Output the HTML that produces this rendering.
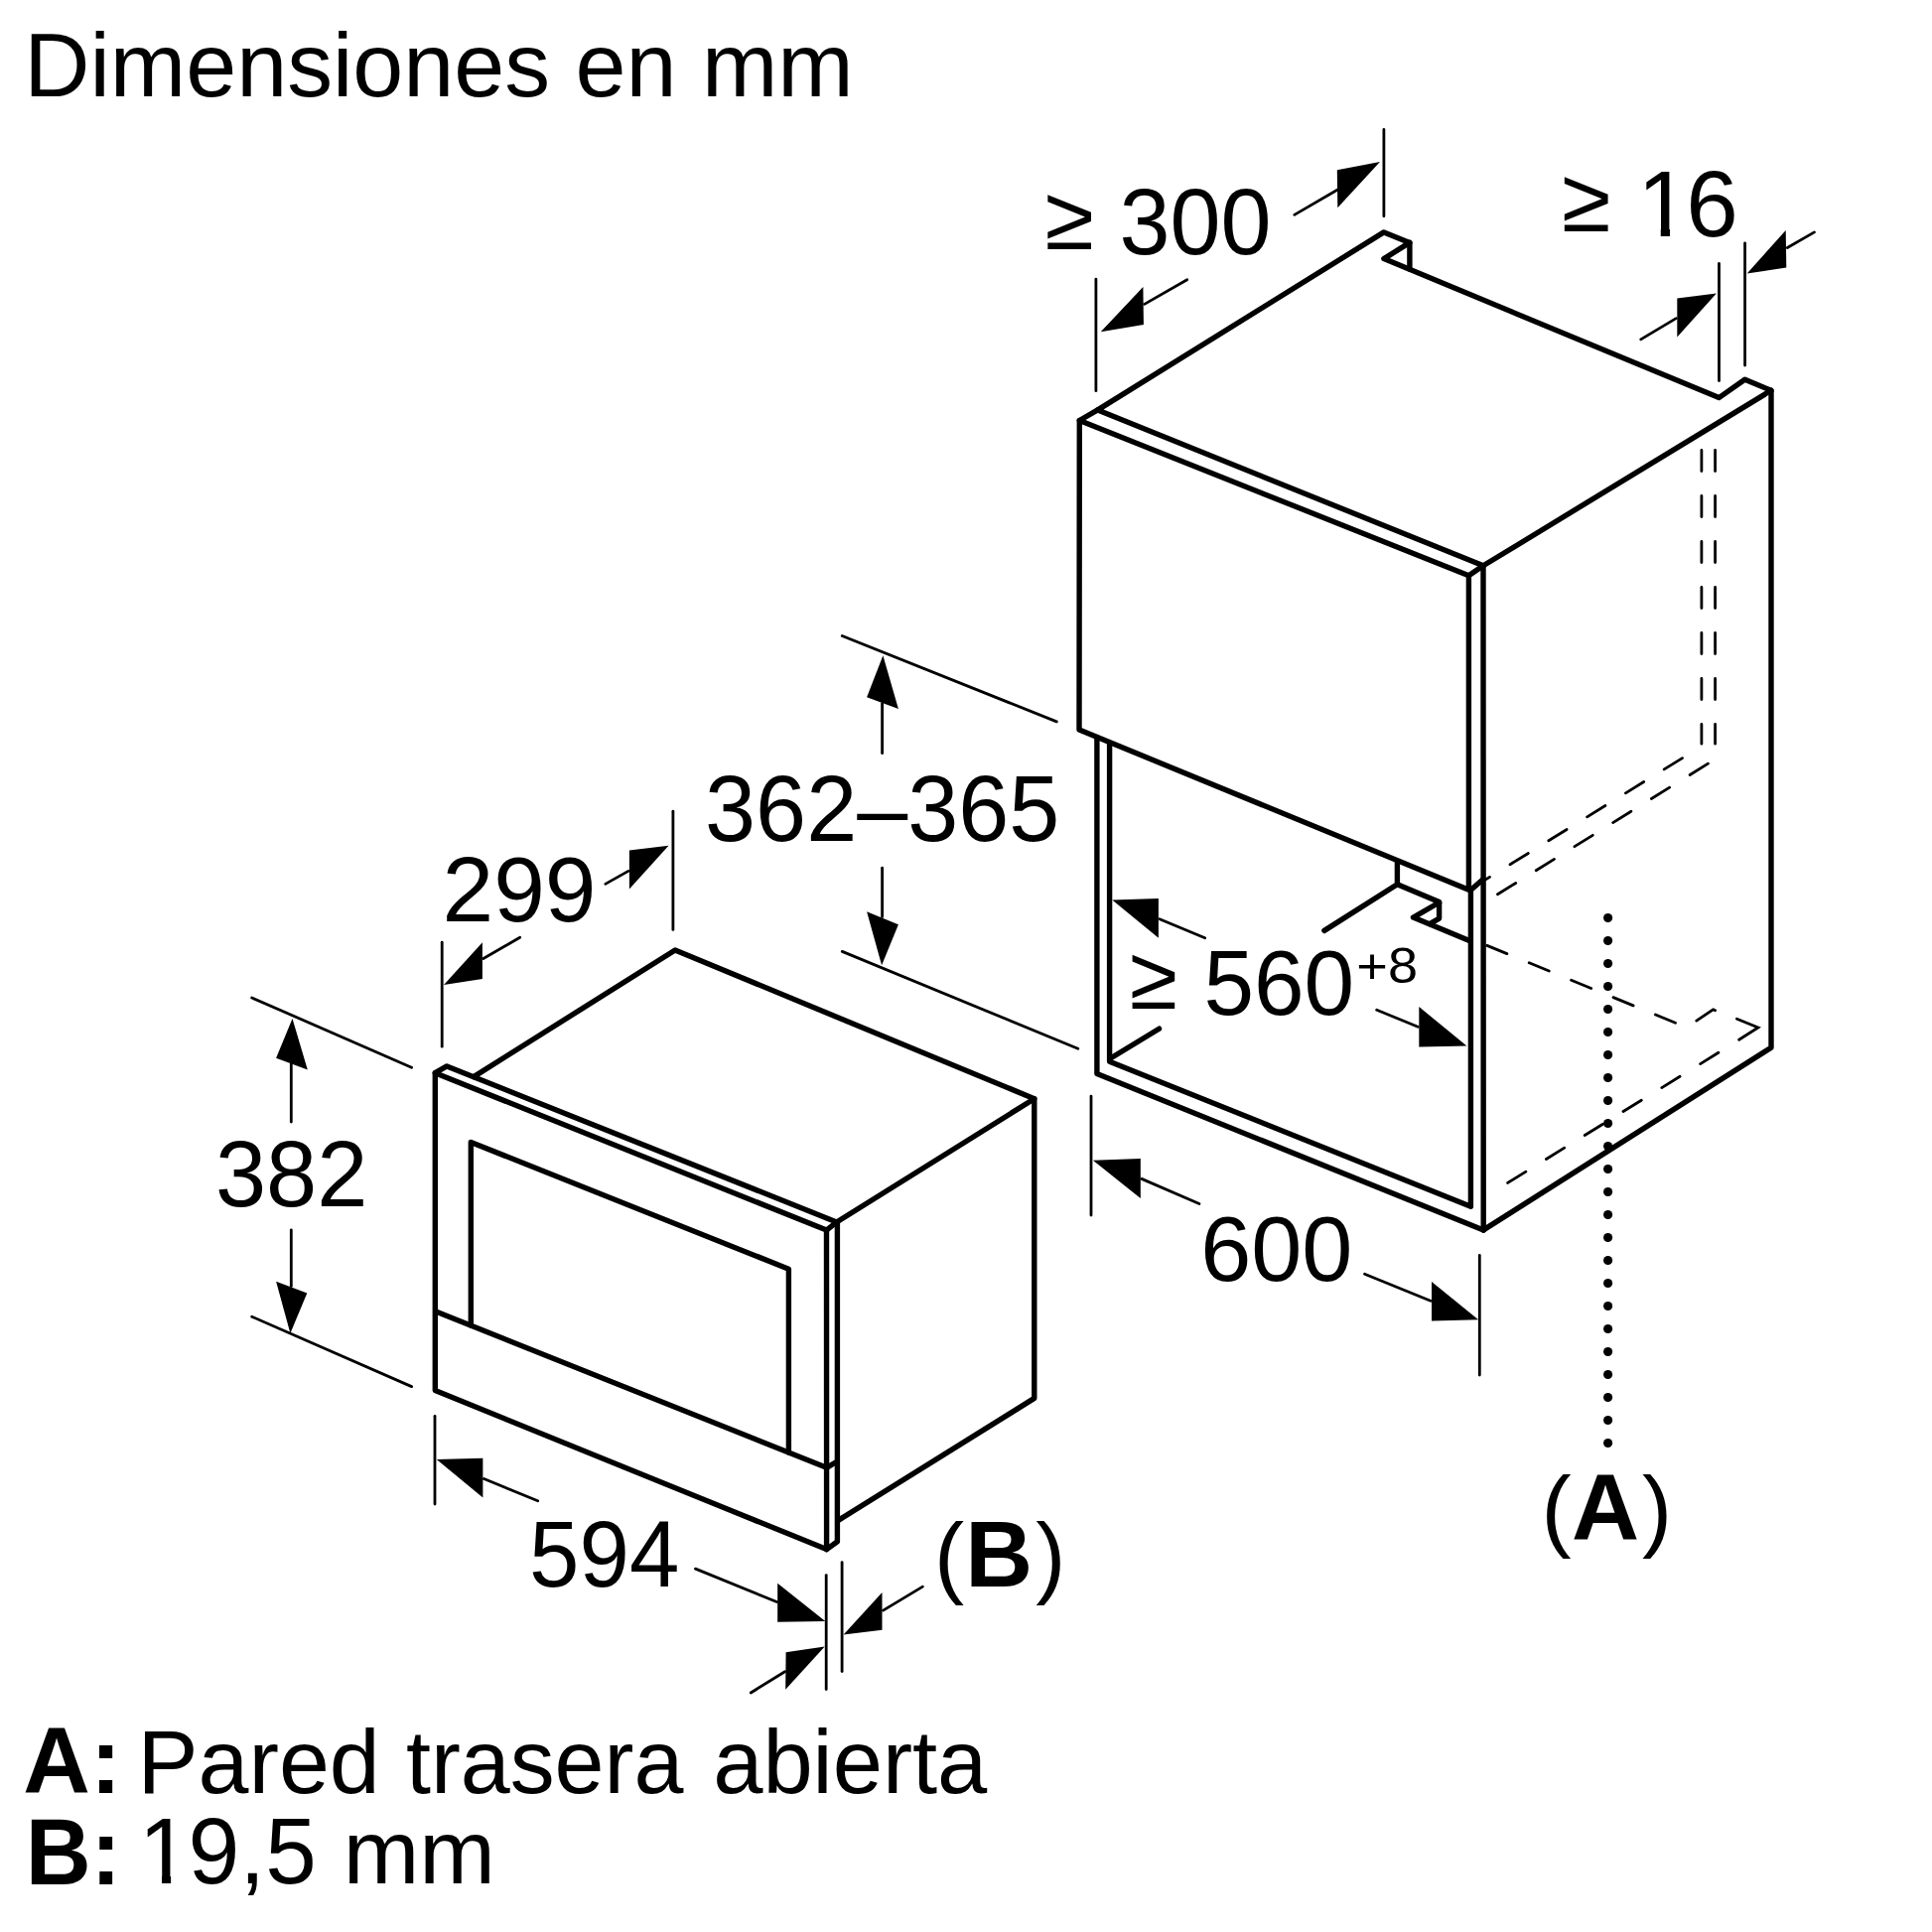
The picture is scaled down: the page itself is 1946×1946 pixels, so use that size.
<!DOCTYPE html>
<html lang="es">
<head>
<meta charset="utf-8">
<title>Dimensiones en mm</title>
<style>
html,body{margin:0;padding:0;background:#fff;}
body{width:1946px;height:1946px;overflow:hidden;}
svg{display:block;}
.k{fill:none;stroke:#000;stroke-width:5.4;stroke-linecap:round;stroke-linejoin:round;}
.m{stroke-linejoin:miter;stroke-miterlimit:10;}
.n{fill:none;stroke:#000;stroke-width:2.8;stroke-linecap:round;}
.d{fill:none;stroke:#000;stroke-width:2.8;stroke-linecap:round;}
.a{fill:#000;stroke:none;}
text{font-family:"Liberation Sans",Arial,Helvetica,sans-serif;fill:#000;}
.t{font-size:90.5px;}
.s{font-size:46.6px;}
.b{font-weight:bold;}
</style>
</head>
<body>
<svg width="1946" height="1946" viewBox="0 0 1946 1946">
<rect width="1946" height="1946" fill="#fff"/>
<path class="k" d="M1087.3 423.5 L1105.7 412.9"/>
<path class="k" d="M1479.4 579.7 L1494.0 569.8"/>
<path class="k" d="M1494.0 569.8 L1105.7 412.9 L1393.9 233.9 L1419.9 244.4 L1419.9 271.0"/>
<path class="k" d="M1419.9 244.4 L1393.9 260.6 L1731.4 400.6 L1757.5 382.3 L1784.0 393.3 L1784.0 1055.2 L1494.2 1238.9"/>
<path class="k" d="M1784.0 393.3 L1494.0 569.8"/>
<path class="k" d="M1494.0 569.8 L1494.2 1238.9"/>
<path class="k" d="M1481.4 897.0 L1481.4 1215.3 L1117.6 1069.2 L1117.6 742.0"/>
<path class="k" d="M1494.2 1238.9 L1104.9 1081.5 L1104.9 737.0"/>
<path class="k" d="M1481.4 896.5 L1494.0 885.5"/>
<path class="k" style="fill:#fff" d="M1479.4 579.7 L1087.3 423.5 L1087.0 735.0 L1479.4 896.2 Z"/>
<path class="k" d="M1118.5 1066.0 L1167.5 1036.2"/>
<path class="k" d="M1407.4 868.0 L1407.4 890.7 L1333.9 937.4"/>
<path class="k" d="M1407.4 890.7 L1449.6 908.5 L1449.6 925.1 L1440.1 930.6"/>
<path class="k" d="M1449.6 909.0 L1423.5 924.1 L1480.0 947.4"/>
<path class="d" stroke-dasharray="21.2 24.8" stroke-dashoffset="0" d="M1713.9 453.4 L1713.9 749.2"/>
<path class="d" stroke-dasharray="21.2 24.8" stroke-dashoffset="0" d="M1727.6 453.4 L1727.6 749.2"/>
<path class="d" stroke-dasharray="21.5 24.1" stroke-dashoffset="0" d="M1694.5 763.6 L1496.5 885.9"/>
<path class="d" stroke-dasharray="21.5 24.1" stroke-dashoffset="0" d="M1720.4 769.1 L1508.2 901.0"/>
<path class="d" stroke-dasharray="21.7 24.15" stroke-dashoffset="0" d="M1497.8 952.4 L1688.0 1030.5"/>
<path class="d" d="M1708.8 1028.1 L1725.6 1016.8 L1727.6 1017.7"/>
<path class="d" d="M1749.4 1026.3 L1770.9 1035.0 L1751.6 1047.2"/>
<path class="d" stroke-dasharray="21.5 24.1" stroke-dashoffset="0" d="M1730.9 1060.3 L1517.4 1192.2"/>
<circle class="a" cx="1619.6" cy="924.5" r="4.55"/>
<circle class="a" cx="1619.6" cy="947.5" r="4.55"/>
<circle class="a" cx="1619.6" cy="970.5" r="4.55"/>
<circle class="a" cx="1619.6" cy="993.5" r="4.55"/>
<circle class="a" cx="1619.6" cy="1016.5" r="4.55"/>
<circle class="a" cx="1619.6" cy="1039.5" r="4.55"/>
<circle class="a" cx="1619.6" cy="1062.5" r="4.55"/>
<circle class="a" cx="1619.6" cy="1085.5" r="4.55"/>
<circle class="a" cx="1619.6" cy="1108.5" r="4.55"/>
<circle class="a" cx="1619.6" cy="1131.5" r="4.55"/>
<circle class="a" cx="1619.6" cy="1154.5" r="4.55"/>
<circle class="a" cx="1619.6" cy="1177.5" r="4.55"/>
<circle class="a" cx="1619.6" cy="1200.5" r="4.55"/>
<circle class="a" cx="1619.6" cy="1223.5" r="4.55"/>
<circle class="a" cx="1619.6" cy="1246.5" r="4.55"/>
<circle class="a" cx="1619.6" cy="1269.5" r="4.55"/>
<circle class="a" cx="1619.6" cy="1292.5" r="4.55"/>
<circle class="a" cx="1619.6" cy="1315.5" r="4.55"/>
<circle class="a" cx="1619.6" cy="1338.5" r="4.55"/>
<circle class="a" cx="1619.6" cy="1361.5" r="4.55"/>
<circle class="a" cx="1619.6" cy="1384.5" r="4.55"/>
<circle class="a" cx="1619.6" cy="1407.5" r="4.55"/>
<circle class="a" cx="1619.6" cy="1430.5" r="4.55"/>
<circle class="a" cx="1619.6" cy="1453.5" r="4.55"/>
<path class="n" d="M1393.9 130.4 L1393.9 217.8"/>
<path class="n" d="M1103.9 281.1 L1103.9 393.7"/>
<path class="n" d="M1303.8 216.4 L1347.0 191.2"/>
<polygon class="a" points="1390.0,162.9 1346.8,171.2 1347.3,209.2"/>
<path class="n" d="M1195.7 281.8 L1152.7 306.4"/>
<polygon class="a" points="1108.7,334.2 1151.4,288.9 1151.9,327.0"/>
<path class="n" d="M1731.5 265.5 L1731.5 383.5"/>
<path class="n" d="M1757.6 244.8 L1757.6 368.0"/>
<path class="n" d="M1827.5 233.9 L1800.3 249.5"/>
<polygon class="a" points="1759.7,275.5 1798.7,232.0 1799.3,269.5"/>
<path class="n" d="M1652.7 341.9 L1688.3 320.6"/>
<polygon class="a" points="1728.9,295.4 1689.3,300.6 1689.3,339.4"/>
<path class="n" d="M848.3 640.5 L1064.3 726.9"/>
<path class="n" d="M848.3 958.4 L1085.8 1056.3"/>
<path class="n" d="M888.6 708.6 L888.6 758.7"/>
<polygon class="a" points="889.4,660.3 873.1,702.2 904.9,713.9"/>
<path class="n" d="M888.6 874.2 L888.6 923.6"/>
<polygon class="a" points="888.1,972.2 873.1,918.3 904.9,931.3"/>
<path class="n" d="M1168.0 925.8 L1213.7 944.7"/>
<polygon class="a" points="1120.3,906.6 1166.9,905.1 1166.9,944.7"/>
<path class="n" d="M1386.7 1017.3 L1428.2 1034.2"/>
<polygon class="a" points="1477.4,1053.4 1429.3,1014.1 1429.3,1054.5"/>
<path class="n" d="M1099.0 1104.1 L1099.0 1224.0"/>
<path class="n" d="M1490.3 1264.5 L1490.3 1385.1"/>
<path class="n" d="M1149.9 1187.4 L1208.0 1212.5"/>
<polygon class="a" points="1100.9,1168.7 1148.8,1166.9 1148.8,1207.0"/>
<path class="n" d="M1374.5 1283.3 L1440.9 1310.2"/>
<polygon class="a" points="1489.1,1329.2 1442.0,1291.1 1442.0,1330.5"/>
<path class="k" d="M832.5 1239.1 L438.3 1080.7 L438.3 1400.5 L832.6 1560.6 L832.5 1239.1"/>
<path class="k" d="M438.3 1080.7 L450.1 1073.9 L842.7 1231.0 L832.5 1239.1"/>
<path class="k" d="M477.1 1084.6 L680.0 957.0 L1041.8 1106.7 L842.7 1231.0"/>
<path class="k" d="M1041.8 1106.7 L1041.8 1408.4 L844.3 1531.4"/>
<path class="k" d="M843.4 1231.0 L843.4 1552.8 L832.6 1560.6"/>
<path class="k" d="M439.0 1321.1 L832.6 1478.3 L842.5 1472.5"/>
<path class="k" d="M474.3 1335.0 L474.3 1150.5 L794.4 1278.2 L794.4 1463.0"/>
<path class="n" d="M445.2 949.2 L445.2 1054.2"/>
<path class="n" d="M677.9 817.2 L677.9 936.4"/>
<path class="n" d="M609.8 890.4 L632.9 877.4"/>
<polygon class="a" points="673.5,851.7 633.9,856.6 633.9,895.4"/>
<path class="n" d="M523.7 944.2 L486.9 965.5"/>
<polygon class="a" points="447.0,992.0 485.9,949.3 485.9,986.0"/>
<path class="n" d="M253.7 1005.0 L414.6 1075.2"/>
<path class="n" d="M253.7 1326.2 L414.6 1396.6"/>
<path class="n" d="M293.3 1071.7 L293.3 1130.0"/>
<polygon class="a" points="294.5,1026.0 278.1,1065.7 309.8,1077.6"/>
<path class="n" d="M293.3 1238.8 L293.3 1295.5"/>
<polygon class="a" points="292.4,1343.1 278.1,1290.7 309.3,1302.6"/>
<path class="n" d="M438.0 1426.3 L438.0 1515.0"/>
<path class="n" d="M487.5 1489.5 L541.7 1511.8"/>
<polygon class="a" points="439.8,1470.1 486.4,1468.8 486.4,1508.4"/>
<path class="n" d="M700.5 1580.1 L782.4 1613.5"/>
<polygon class="a" points="831.3,1632.9 783.2,1594.7 783.2,1633.8"/>
<path class="n" d="M832.2 1586.6 L832.2 1701.6"/>
<path class="n" d="M848.1 1573.6 L848.1 1683.5"/>
<path class="n" d="M756.3 1705.0 L790.6 1683.8"/>
<polygon class="a" points="830.7,1658.6 791.6,1664.2 791.2,1701.8"/>
<path class="n" d="M929.4 1598.1 L889.5 1622.1"/>
<polygon class="a" points="849.6,1646.5 888.5,1604.0 888.5,1641.8"/>
<clipPath id="c1" clipPathUnits="userSpaceOnUse"><path d="M0 -80H170V30H47V-7.7H31.45V0.6H22.55V-7.7H0Z"/></clipPath>
<text id="title" font-size="90.5" transform="translate(24.27 97.40) scale(1.0129 1.0000)">Dimensiones en mm</text>
<text id="ge300" font-size="90.5" transform="translate(1052.43 251.20) scale(0.9921 1.0057)">≥</text>
<text id="n300" font-size="90.5" transform="translate(1127.51 255.96) scale(1.0135 1.0376)">300</text>
<text id="ge16" font-size="90.5" transform="translate(1572.94 232.80) scale(0.9942 1.0083)">≥</text>
<text id="n16" clip-path="url(#c1)" font-size="90.5" transform="translate(1649.20 237.60) scale(1.045 1.040)">1<tspan dx="-3.4">6</tspan></text>
<text id="n362" font-size="90.5" transform="translate(710.09 847.17) scale(1.0142 1.0376)">362–365</text>
<text id="ge560" font-size="90.5" transform="translate(1137.65 1016.20) scale(0.9693 0.9957)">≥</text>
<text id="n560" font-size="90.5" transform="translate(1212.41 1021.56) scale(1.0053 1.0299)">560</text>
<text id="p8" font-size="46.6" transform="translate(1366.33 989.79) scale(1.1617 1.0781)">+8</text>
<text id="n600" font-size="90.5" transform="translate(1209.15 1289.78) scale(1.0155 1.0330)">600</text>
<text id="n299" font-size="90.5" transform="translate(445.53 927.78) scale(1.0260 1.0345)">299</text>
<text id="n382" font-size="90.5" transform="translate(216.88 1215.17) scale(1.0163 1.0376)">382</text>
<text id="n594" font-size="90.5" transform="translate(533.07 1597.76) scale(1.0016 1.0363)">594</text>
<text id="tb" y="1597.6" font-size="90.5"><tspan x="941.0">(</tspan><tspan x="972.3" class="b" font-size="94">B</tspan><tspan x="1043.15">)</tspan></text>
<text id="ta" y="1551.1" font-size="90.5"><tspan x="1552.55">(</tspan><tspan x="1583.05" class="b" font-size="94.3">A</tspan><tspan x="1654.1">)</tspan></text>
<text id="la1" class="b" font-size="90.5" transform="translate(23.31 1805.59) scale(1.0347 1.0418)">A:</text>
<text id="la2" font-size="90.5" transform="translate(138.48 1805.80) scale(1.0117 1.0000)">Pared</text>
<text id="la3" font-size="90.5" transform="translate(408.94 1805.80) scale(0.9921 1.0000)">trasera</text>
<text id="la4" font-size="90.5" transform="translate(718.14 1805.80) scale(0.9984 1.0000)">abierta</text>
<text id="lb1" class="b" font-size="90.5" transform="translate(25.69 1897.61) scale(1.0085 1.0409)">B:</text>
<text id="lb2" clip-path="url(#c1)" font-size="90.5" transform="translate(139.74 1897.45) scale(1.030 1.040)">1<tspan dx="-2.1">9,5</tspan></text>
<text id="lb3" font-size="90.5" transform="translate(345.69 1897.30) scale(1.0155 1.0000)">mm</text>
</svg>
</body>
</html>
